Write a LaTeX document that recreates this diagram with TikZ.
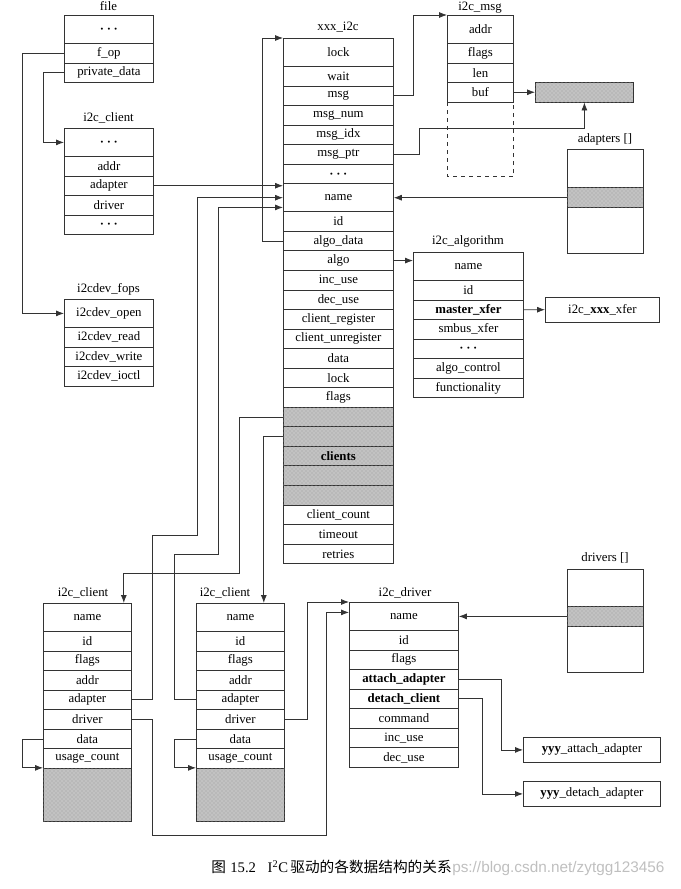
\documentclass[tikz,border=0pt]{standalone}
\usepackage{fontspec}
\setmainfont{Liberation Serif}
\setsansfont{Liberation Sans}
\newfontfamily\cjk{Noto Sans CJK SC}
\usetikzlibrary{patterns,arrows.meta}

\tikzset{
    fld/.style={draw=black!80, line width=0.6pt, anchor=north west, inner sep=0pt,
        minimum height=14.66pt, font=\fontsize{9.6}{11}\selectfont},
    tall/.style={minimum height=21pt},
    ttl/.style={anchor=base, inner sep=0pt, font=\fontsize{9.6}{11}\selectfont},
    shade/.style={fill=black!24, postaction={pattern=crosshatch dots, pattern color=black!38}},
    arr/.style={-{Latex[length=6pt,width=4.5pt]}, line width=0.6pt, draw=black!80},
    w89/.style={minimum width=66.75pt},
    w110/.style={minimum width=82.5pt},
    w66/.style={minimum width=49.5pt},
    w109/.style={minimum width=81.75pt},
    w88/.style={minimum width=66pt},
}
\newcommand{\ddd}{{\boldmath$\cdots$}}

\begin{document}
\begin{tikzpicture}[x=0.75pt, y=-0.75pt]
    \useasboundingbox (0,0) rectangle (681,889);

    % file
    \node[ttl] at (108.5,10) {file};
    \node[fld, w89, tall] (fdots) at (64,15) {\ddd};
    \node[fld, w89] (fop) at (64,43) {f\_op};
    \node[fld, w89] (fpriv) at (64,62.55) {private\_data};

    % i2c_client (top)
    \node[ttl] at (108.5,121) {i2c\_client};
    \node[fld, w89, tall] (tcdots) at (64,128) {\ddd};
    \node[fld, w89] (tcaddr) at (64,156) {addr};
    \node[fld, w89] (tcadap) at (64,175.55) {adapter};
    \node[fld, w89] (tcdrv) at (64,195.1) {driver};
    \node[fld, w89] (tcdots2) at (64,214.65) {\ddd};

    % i2cdev_fops
    \node[ttl] at (108.5,292) {i2cdev\_fops};
    \node[fld, w89, tall] (fopen) at (64,299) {i2cdev\_open};
    \node[fld, w89] (fread) at (64,327) {i2cdev\_read};
    \node[fld, w89] (fwrite) at (64,346.55) {i2cdev\_write};
    \node[fld, w89] (fioctl) at (64,366.1) {i2cdev\_ioctl};

    % xxx_i2c
    \node[ttl] at (338,30) {xxx\_i2c};
    \node[fld, w110, tall] (xlock) at (283,38) {lock};
    \node[fld, w110] (xwait) at (283,66) {wait};
    \node[fld, w110] (xmsg) at (283,85.55) {msg};
    \node[fld, w110] (xnum) at (283,105.1) {msg\_num};
    \node[fld, w110] (xidx) at (283,124.65) {msg\_idx};
    \node[fld, w110] (xptr) at (283,144.2) {msg\_ptr};
    \node[fld, w110] (xdots) at (283,163.75) {\ddd};
    \node[fld, w110, tall] (xname) at (283,183.3) {name};
    \node[fld, w110] (xid) at (283,211.3) {id};
    \node[fld, w110] (xadata) at (283,230.85) {algo\_data};
    \node[fld, w110] (xalgo) at (283,250.4) {algo};
    \node[fld, w110] (xinc) at (283,269.95) {inc\_use};
    \node[fld, w110] (xdec) at (283,289.5) {dec\_use};
    \node[fld, w110] (xreg) at (283,309.05) {client\_register};
    \node[fld, w110] (xunreg) at (283,328.6) {client\_unregister};
    \node[fld, w110] (xdata) at (283,348.15) {data};
    \node[fld, w110] (xlock2) at (283,367.7) {lock};
    \node[fld, w110] (xflags) at (283,387.25) {flags};
    \node[fld, w110, shade] (xs1) at (283,406.8) {};
    \node[fld, w110, shade] (xs2) at (283,426.35) {};
    \node[fld, w110, shade] (xs3) at (283,445.9) {\textbf{clients}};
    \node[fld, w110, shade] (xs4) at (283,465.45) {};
    \node[fld, w110, shade] (xs5) at (283,485) {};
    \node[fld, w110] (xcount) at (283,504.55) {client\_count};
    \node[fld, w110] (xtimeout) at (283,524.1) {timeout};
    \node[fld, w110] (xretries) at (283,543.65) {retries};

    % i2c_msg
    \node[ttl] at (480,10) {i2c\_msg};
    \node[fld, w66, tall] (maddr) at (447,15) {addr};
    \node[fld, w66] (mflags) at (447,43) {flags};
    \node[fld, w66] (mlen) at (447,62.55) {len};
    \node[fld, w66] (mbuf) at (447,82.1) {buf};
    \draw[dashed, line width=0.6pt, draw=black!80] (mbuf.south west) -- ++(0,74) -| (mbuf.south east);
    \node[fld, shade, minimum width=73.5pt] (mdata) at (535,82.1) {};

    % adapters []
    \node[ttl] at (605,142) {adapters []};
    \node[fld, minimum width=57pt, minimum height=78pt] (adbox) at (567,149) {};
    \node[fld, shade, minimum width=57pt, minimum height=15pt] (adsel) at (567,187.3) {};

    % i2c_algorithm
    \node[ttl] at (468,244) {i2c\_algorithm};
    \node[fld, w110, tall] (aname) at (413,252) {name};
    \node[fld, w110] (aid) at (413,280) {id};
    \node[fld, w110] (amaster) at (413,299.55) {\textbf{master\_xfer}};
    \node[fld, w110] (asmbus) at (413,319.1) {smbus\_xfer};
    \node[fld, w110] (adots) at (413,338.65) {\ddd};
    \node[fld, w110] (actrl) at (413,358.2) {algo\_control};
    \node[fld, w110] (afunc) at (413,377.75) {functionality};
    \node[fld, minimum width=85.5pt, minimum height=18.75pt] (xfer) at (545,296.8) {i2c\_\textbf{xxx}\_xfer};

    % drivers []
    \node[ttl] at (605,561) {drivers []};
    \node[fld, minimum width=57pt, minimum height=77.25pt] (drbox) at (567,569) {};
    \node[fld, shade, minimum width=57pt, minimum height=15pt] (drsel) at (567,606) {};

    % i2c_driver
    \node[ttl] at (405,596) {i2c\_driver};
    \node[fld, w109, tall] (dname) at (349,602) {name};
    \node[fld, w109] (did) at (349,630) {id};
    \node[fld, w109] (dflags) at (349,649.55) {flags};
    \node[fld, w109] (dattach) at (349,669.1) {\textbf{attach\_adapter}};
    \node[fld, w109] (ddetach) at (349,688.65) {\textbf{detach\_client}};
    \node[fld, w109] (dcmd) at (349,708.2) {command};
    \node[fld, w109] (dinc) at (349,727.75) {inc\_use};
    \node[fld, w109] (ddec) at (349,747.3) {dec\_use};
    \node[fld, minimum width=102.75pt, minimum height=18.75pt] (yattach) at (523,737) {\textbf{yyy}\_attach\_adapter};
    \node[fld, minimum width=102.75pt, minimum height=18.75pt] (ydetach) at (523,781) {\textbf{yyy}\_detach\_adapter};

    % i2c_client (bottom left)
    \node[ttl] at (83,596) {i2c\_client};
    \node[fld, w88, tall] (lcname) at (43,603) {name};
    \node[fld, w88] (lcid) at (43,631) {id};
    \node[fld, w88] (lcflags) at (43,650.55) {flags};
    \node[fld, w88] (lcaddr) at (43,670.1) {addr};
    \node[fld, w88] (lcadap) at (43,689.65) {adapter};
    \node[fld, w88] (lcdrv) at (43,709.2) {driver};
    \node[fld, w88] (lcdata) at (43,728.75) {data};
    \node[fld, w88] (lcusage) at (43,748.3) {usage\_count};
    \node[fld, w88, shade, minimum height=39.86pt] (lcmem) at (43,767.85) {};

    % i2c_client (bottom right)
    \node[ttl] at (225,596) {i2c\_client};
    \node[fld, w88, tall] (rcname) at (196,603) {name};
    \node[fld, w88] (rcid) at (196,631) {id};
    \node[fld, w88] (rcflags) at (196,650.55) {flags};
    \node[fld, w88] (rcaddr) at (196,670.1) {addr};
    \node[fld, w88] (rcadap) at (196,689.65) {adapter};
    \node[fld, w88] (rcdrv) at (196,709.2) {driver};
    \node[fld, w88] (rcdata) at (196,728.75) {data};
    \node[fld, w88] (rcusage) at (196,748.3) {usage\_count};
    \node[fld, w88, shade, minimum height=39.86pt] (rcmem) at (196,767.85) {};

    % file links
    \draw[arr] (fop.west) -- ++(-42,0) |- (fopen.west);
    \draw[arr] (fpriv.west) -- ++(-21,0) |- (tcdots.west);

    % adapter pointers
    \draw[arr] (tcadap.east) -- (tcadap.east -| xname.west);
    \draw[arr] (lcadap.east) -- ++(21,0) |- (197,535) |- (xname.west);
    \draw[arr] (rcadap.west) -- ++(-22,0) |- (218,554) |- ([yshift=-7.3pt]xname.west);
    \draw[arr] (adsel.west) -- (xname.east);
    \draw[arr] (xadata.west) -- ++(-21,0) |- (xlock.north west);

    % messages
    \draw[arr] (xmsg.east) -- ++(20,0) |- (maddr.north west);
    \draw[arr] (xptr.east) -- ++(26,0) |- (mdata.south |- 0,128) -- (mdata.south);
    \draw[arr] (mbuf.east) -- (mdata.west);

    % algorithm
    \draw[arr] (xalgo.east) -- (xalgo.east -| aname.west);
    \draw[arr] (amaster.east) -- (xfer.west);

    % clients
    \draw[arr] (xs1.west) -| (239,573) -| ([xshift=-6pt]lcname.north east);
    \draw[arr] (xs2.west) -| ([xshift=-15.75pt]rcname.north east);
    \draw[arr] (lcdata.west) -- ++(-21,0) |- (lcmem.north west);
    \draw[arr] (rcdata.west) -- ++(-22,0) |- (rcmem.north west);

    % drivers
    \draw[arr] (lcdrv.east) -- ++(21,0) |- (326,835) |- ([yshift=3pt]dname.west);
    \draw[arr] (rcdrv.east) -- ++(23,0) |- (dname.north west);
    \draw[arr] (drsel.west) -- (dname.east);
    \draw[arr] (dattach.east) -- ++(43,0) |- (yattach.west);
    \draw[arr] (ddetach.east) -- ++(24,0) |- (ydetach.west);

    % caption
    \node[anchor=west, inner sep=0pt, font=\fontsize{11}{13}\selectfont] (cap) at (211,867) {{\cjk 图}\hspace{0.3em}15.2\hspace{0.8em}I\textsuperscript{2}C\hspace{0.15em}{\cjk 驱动的各数据结构的关系}};
    \node[anchor=base west, inner sep=0pt, text=black!25, font=\sffamily\fontsize{11.5}{13}\selectfont] (wm) at (cap.base east) {ps://blog.csdn.net/zytgg123456};

\end{tikzpicture}
\end{document}
